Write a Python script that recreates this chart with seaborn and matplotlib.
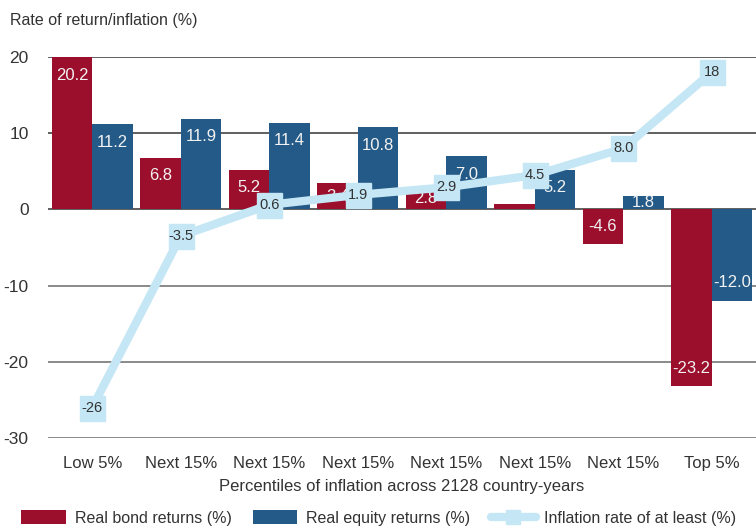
import matplotlib
matplotlib.use("Agg")
import matplotlib.pyplot as plt
import seaborn as sns
import pandas as pd
import numpy as np
from matplotlib.patches import Patch
from matplotlib.lines import Line2D

categories = ["Low 5%", "Next 15%", "Next 15%", "Next 15%", "Next 15%",
              "Next 15%", "Next 15%", "Top 5%"]
bond_returns = [20.2, 6.8, 5.2, 3.4, 2.8, 0.7, -4.6, -23.2]
equity_returns = [11.2, 11.9, 11.4, 10.8, 7.0, 5.2, 1.8, -12.0]
inflation = [-26, -3.5, 0.6, 1.9, 2.9, 4.5, 8.0, 18]
bond_labels = ["20.2", "6.8", "5.2", "3.4", "2.8", "", "-4.6", "-23.2"]
equity_labels = ["11.2", "11.9", "11.4", "10.8", "7.0", "5.2", "1.8", "-12.0"]
inflation_labels = ["-26", "-3.5", "0.6", "1.9", "2.9", "4.5", "8.0", "18"]
yticks = [20, 10, 0, -10, -20, -30]

RED = "#9B0E2C"
BLUE = "#245A87"
LIGHT = "#C4E6F5"
TEXT = "#333333"

sns.set_theme(style="white")
plt.rcParams["font.family"] = ["Liberation Sans", "DejaVu Sans"]

n = len(categories)
pos_ids = [f"c{i}" for i in range(n)]
df = pd.DataFrame({
    "cat": pos_ids * 2,
    "value": bond_returns + equity_returns,
    "series": ["Real bond returns (%)"] * n + ["Real equity returns (%)"] * n,
})

fig = plt.figure(figsize=(7.56, 5.28), dpi=100)
ax = fig.add_axes([48 / 756, 1 - 438 / 528, 1 - 48 / 756, (438 - 57) / 528])

sns.barplot(data=df, x="cat", y="value", hue="series", order=pos_ids,
            palette=[RED, BLUE], width=0.92, gap=0, saturation=1,
            ax=ax, legend=False, zorder=2, linewidth=0, edgecolor="none")
ax.set_xlim(-0.5, n - 0.5)
ax.set_ylim(-30, 20)

for y in yticks:
    ax.axhline(y, color="#444444" if y in (0, 10, 20) else "#777777",
               lw=1.2, zorder=1)

# bar labels
unit_px = 76.2 / 10.0
for container, labels in zip(ax.containers, [bond_labels, equity_labels]):
    for rect, lab in zip(container, labels):
        if not lab:
            continue
        h = rect.get_height()
        y0 = rect.get_y()
        lo, hi = min(y0, y0 + h), max(y0, y0 + h)
        xc = rect.get_x() + rect.get_width() / 2
        off = min(18 / unit_px, (hi - lo) / 2)
        if hi > 0:
            yc = min(hi, 20) - off
        else:
            yc = lo + off
        ax.text(xc, yc, lab, ha="center", va="center", color="#F2F2F2",
                fontsize=12, zorder=3)

# inflation line
xs = np.arange(n)
ax.plot(xs, inflation, color=LIGHT, lw=6, marker="s", markersize=18,
        markerfacecolor=LIGHT, markeredgecolor=LIGHT, zorder=4,
        solid_capstyle="butt", clip_on=False)
for x, y, lab in zip(xs, inflation, inflation_labels):
    ax.text(x, y, lab, ha="center", va="center", color=TEXT, fontsize=10.5,
            zorder=5)

ax.set_xticks(xs)
ax.set_xticklabels(categories, fontsize=12, color=TEXT)
ax.set_yticks(yticks)
ax.set_yticklabels([str(t) for t in yticks], fontsize=12.5, color=TEXT)
ax.tick_params(axis="x", length=0, pad=13)
ax.tick_params(axis="y", length=0, pad=14)
ax.set_xlabel("Percentiles of inflation across 2128 country-years",
              fontsize=12, color=TEXT, labelpad=6)
ax.set_ylabel("")
for s in ax.spines.values():
    s.set_visible(False)

fig.text(10 / 756, 1 - 20 / 528, "Rate of return/inflation (%)",
         fontsize=11.5, color=TEXT, ha="left", va="center")

handles = [
    Patch(facecolor=RED, edgecolor="none", label="Real bond returns (%)"),
    Patch(facecolor=BLUE, edgecolor="none", label="Real equity returns (%)"),
    Line2D([0], [0], color=LIGHT, lw=6, marker="s", markersize=10,
           markerfacecolor=LIGHT, markeredgecolor=LIGHT,
           label="Inflation rate of at least (%)"),
]
leg = fig.legend(handles=handles, loc="center", ncol=3,
                 bbox_to_anchor=(379 / 756, 1 - 518 / 528), frameon=False,
                 fontsize=11.5, handlelength=2.8, handleheight=0.9,
                 handletextpad=0.55, columnspacing=1.3, labelcolor=TEXT)

fig.savefig("out.png", dpi=100)
